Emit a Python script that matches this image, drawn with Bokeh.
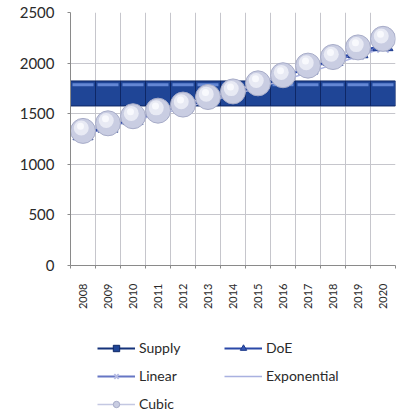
import numpy as np
from bokeh.plotting import figure
from bokeh.layouts import column
from bokeh.models import FixedTicker, Legend, LegendItem, Range1d
from bokeh.transform import dodge
from bokeh.embed import file_html
from bokeh.resources import INLINE

years = [2008, 2009, 2010, 2011, 2012, 2013, 2014, 2015, 2016, 2017, 2018, 2019, 2020]
supply = [1700, 1700, 1700, 1700, 1700, 1700, 1700, 1700, 1700, 1700, 1700, 1700, 1700]
doe = [1300, 1375, 1450, 1515, 1580, 1650, 1710, 1785, 1865, 1950, 2035, 2110, 2180]
linear = [1290, 1365, 1440, 1510, 1585, 1655, 1730, 1800, 1875, 1950, 2020, 2090, 2160]
exponential = [1320, 1375, 1430, 1490, 1555, 1620, 1685, 1755, 1830, 1905, 1985, 2065, 2150]
cubic = [1330, 1405, 1475, 1530, 1590, 1665, 1720, 1800, 1880, 1975, 2060, 2155, 2240]
y_ticks = [0, 500, 1000, 1500, 2000, 2500]
boundaries = [y - 0.5 for y in years] + [years[-1] + 0.5]

FONT = "Lato"
TXT = "#2a2a2a"

STY = dict(
    sup_line=dict(line_color="#15327a", line_width=2),
    sup_mk=dict(marker="square", fill_color="#1f4596", line_color="#0e2766", line_width=1),
    exp_line=dict(line_color="#a9b1e0", line_width=1.5),
    lin_line=dict(line_color="#6676c4", line_width=2),
    lin_mk=dict(marker="x", line_color="#b4bae2", line_width=2),
    doe_line=dict(line_color="#2a48a8", line_width=2),
    doe_mk=dict(marker="triangle", fill_color="#3556b4", line_color="#1d3a8c"),
    cub_line=dict(line_color="#c4c8e2", line_width=1.5),
    cub_mk=dict(marker="circle", fill_color="#c9cde2", line_color="#a7acc8", line_width=1),
)

p = figure(width=408, height=312, output_backend="svg", toolbar_location=None,
           x_range=Range1d(2007.5, 2020.5), y_range=Range1d(0, 2500),
           min_border_left=70, min_border_right=13, min_border_top=12,
           min_border_bottom=44)
p.outline_line_color = None
p.background_fill_color = "white"
p.border_fill_color = "white"

# grid
p.xgrid.ticker = FixedTicker(ticks=boundaries)
p.ygrid.ticker = FixedTicker(ticks=y_ticks)
p.xgrid.grid_line_color = "#c6c6cc"
p.ygrid.grid_line_color = "#c6c6cc"

# x axis
p.xaxis.ticker = FixedTicker(ticks=years, minor_ticks=boundaries)
p.xaxis.major_label_orientation = np.pi / 2
p.xaxis.major_tick_line_color = None
p.xaxis.minor_tick_out = 3
p.xaxis.minor_tick_in = 0
p.xaxis.minor_tick_line_color = "#8a8a8a"
p.xaxis.axis_line_color = "#8a8a8a"
p.xaxis.major_label_standoff = 12
p.xaxis.major_label_text_font = FONT
p.xaxis.major_label_text_font_size = "11px"
p.xaxis.major_label_text_color = TXT

# y axis
p.yaxis.ticker = FixedTicker(ticks=y_ticks)
p.yaxis.axis_line_color = "#8a8a8a"
p.yaxis.major_tick_line_color = "#8a8a8a"
p.yaxis.major_tick_out = 3
p.yaxis.major_tick_in = 0
p.yaxis.minor_tick_line_color = None
p.yaxis.major_label_standoff = 13
p.yaxis.major_label_text_font = FONT
p.yaxis.major_label_text_font_size = "15px"
p.yaxis.major_label_text_color = TXT

src_sup = dict(x=years, y=supply)
src_cub = dict(x=years, y=cubic)

# Supply
p.line(years, supply, **STY["sup_line"])
p.scatter(years, supply, size=25, **STY["sup_mk"])
p.scatter(x='x', y=dodge('y', 85), marker="dash", size=21, line_color="#6487d4",
          line_width=3, source=src_sup)
# Exponential
p.line(years, exponential, **STY["exp_line"])
# Linear
p.line(years, linear, **STY["lin_line"])
p.scatter(years, linear, size=16, **STY["lin_mk"])
# DoE
p.line(years, doe, **STY["doe_line"])
p.scatter(years, doe, size=20, **STY["doe_mk"])
# Cubic
p.line(years, cubic, **STY["cub_line"])
p.scatter(years, cubic, size=25, **STY["cub_mk"])
p.scatter(x=dodge('x', -0.07), y=dodge('y', 28), marker="circle", size=15,
          fill_color="#e8eaf4", line_color=None, source=src_cub)
p.scatter(x=dodge('x', -0.1), y=dodge('y', 45), marker="circle", size=7,
          fill_color="#f8f9fd", line_color=None, source=src_cub)

# legend figure (same series, ranges that keep marks off-frame; only the legend shows)
lg = figure(width=408, height=101, output_backend="svg", toolbar_location=None,
            x_range=Range1d(0, 1), y_range=Range1d(0, 1),
            min_border_left=0, min_border_right=0, min_border_top=0, min_border_bottom=0)
lg.axis.visible = False
lg.grid.visible = False
lg.outline_line_color = None
r_sl = lg.line(years, supply, **STY["sup_line"])
r_sm = lg.scatter(years, supply, size=12, **STY["sup_mk"])
r_dl = lg.line(years, doe, **STY["doe_line"])
r_dm = lg.scatter(years, doe, size=13, **STY["doe_mk"])
r_ll = lg.line(years, linear, **STY["lin_line"])
r_lm = lg.scatter(years, linear, size=10, **STY["lin_mk"])
r_el = lg.line(years, exponential, **STY["exp_line"])
r_cl = lg.line(years, cubic, **STY["cub_line"])
r_cm = lg.scatter(years, cubic, size=11, **STY["cub_mk"])

legend = Legend(items=[
    LegendItem(label="Supply", renderers=[r_sl, r_sm]),
    LegendItem(label="DoE", renderers=[r_dl, r_dm]),
    LegendItem(label="Linear", renderers=[r_ll, r_lm]),
    LegendItem(label="Exponential", renderers=[r_el]),
    LegendItem(label="Cubic", renderers=[r_cl, r_cm]),
], ncols=2, orientation="horizontal", location=(27, 1),
    padding=0, margin=0, spacing=11, glyph_width=38, glyph_height=16,
    label_height=16, label_width=74, label_standoff=4,
    border_line_color=None, background_fill_alpha=0,
    label_text_font=FONT, label_text_font_size="14px", label_text_color=TXT)
lg.add_layout(legend, "center")

layout = column(p, lg)
open("out.html", "w").write(file_html(layout, INLINE))
